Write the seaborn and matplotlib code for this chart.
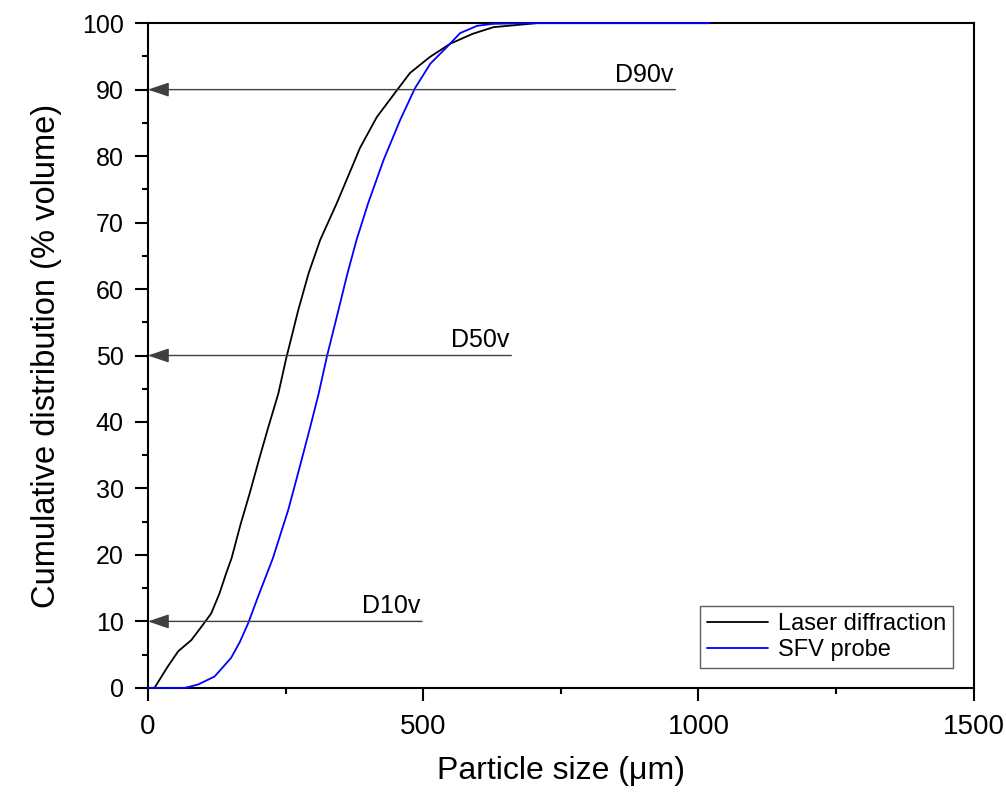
import matplotlib
matplotlib.use("Agg")
import matplotlib.pyplot as plt
import seaborn as sns
import pandas as pd
from matplotlib.ticker import MultipleLocator

# ---- data ----
laser_x = [0, 12, 24, 36, 55, 79, 100, 115, 130, 142, 152, 168, 185, 202, 219, 237, 251,
           273, 292, 313, 343, 376, 385, 416, 455, 476, 512, 549, 590, 628, 707, 1020]
laser_y = [0, 0, 1.6, 3.2, 5.5, 7.2, 9.5, 11.2, 14.2, 17.2, 19.5, 24.5, 29.3, 34.4, 39.3,
           44.3, 49.5, 56.8, 62.4, 67.4, 72.9, 79.4, 81.2, 85.9, 90.2, 92.5, 94.9, 96.9,
           98.4, 99.4, 100, 100]
sfv_x = [0, 67, 91, 121, 151, 167, 182, 200, 227, 255, 276, 295, 310, 325, 346, 362,
         379, 400, 428, 458, 485, 513, 543, 567, 598, 627, 700, 1020]
sfv_y = [0, 0, 0.5, 1.7, 4.5, 6.9, 9.7, 13.7, 19.5, 26.8, 33.3, 39.3, 44.2, 49.8, 56.8,
         62.2, 67.4, 72.9, 79.4, 85.4, 90.2, 93.9, 96.4, 98.5, 99.6, 99.9, 100, 100]
series_names = ["Laser diffraction", "SFV probe"]
series_colors = ["#000000", "#0000ff"]

d_labels = ["D10v", "D50v", "D90v"]
d_levels = [10, 50, 90]
d_line_end = [498, 660, 958]
d_text_y = [11.3, 51.3, 91.2]

x_label = "Particle size (\u03bcm)"
y_label = "Cumulative distribution (% volume)"

# ---- style ----
sns.set_style("ticks")
plt.rcParams["font.family"] = ["Liberation Sans", "DejaVu Sans"]
plt.rcParams["text.color"] = "black"
plt.rcParams["axes.labelcolor"] = "black"
plt.rcParams["xtick.color"] = "black"
plt.rcParams["ytick.color"] = "black"

df = pd.concat([
    pd.DataFrame({"size": laser_x, "cum": laser_y, "series": series_names[0]}),
    pd.DataFrame({"size": sfv_x, "cum": sfv_y, "series": series_names[1]}),
], ignore_index=True)

fig = plt.figure(figsize=(10.06, 7.98), dpi=100)
ax = fig.add_axes([0.147, 0.138, 0.821, 0.833])

sns.lineplot(data=df, x="size", y="cum", hue="series", palette=series_colors,
             sort=False, estimator=None, linewidth=1.3, ax=ax)
for ln in ax.get_lines():
    ln.set_clip_on(False)
    ln.set_zorder(3)

# arrows
for lab, lev, xe, ty in zip(d_labels, d_levels, d_line_end, d_text_y):
    ax.annotate("", xy=(0, lev), xytext=(xe, lev),
                arrowprops=dict(arrowstyle="-|>,head_length=0.65,head_width=0.22",
                                mutation_scale=20, color="#404040", lw=1.0,
                                shrinkA=0, shrinkB=0),
                annotation_clip=False)
    ax.text(xe - 3, ty, lab, ha="right", va="baseline", fontsize=18, color="black")

ax.set_xlim(0, 1500)
ax.set_ylim(0, 100)
ax.xaxis.set_major_locator(MultipleLocator(500))
ax.xaxis.set_minor_locator(MultipleLocator(250))
ax.yaxis.set_major_locator(MultipleLocator(10))
ax.yaxis.set_minor_locator(MultipleLocator(5))

ax.tick_params(axis="both", which="major", direction="out", length=9.5, width=1.5,
               pad=8, color="black", labelcolor="black")
ax.tick_params(axis="both", which="minor", direction="out", length=4.5, width=1.5,
               color="black")
ax.tick_params(axis="x", labelsize=20, pad=9)
ax.tick_params(axis="y", labelsize=18)
ax.tick_params(top=False, right=False, which="both")

for s in ax.spines.values():
    s.set_visible(True)
    s.set_linewidth(1.5)
    s.set_color("black")

ax.set_xlabel(x_label, fontsize=23, labelpad=12, color="black")
ax.set_ylabel(y_label, fontsize=23.5, labelpad=14, color="black")

leg = ax.legend(loc="lower right", bbox_to_anchor=(0.975, 0.03), borderaxespad=0,
                fontsize=17, frameon=True, fancybox=False, title=None,
                handlelength=2.6, handletextpad=0.4, borderpad=0.3, labelspacing=0.15)
leg.get_frame().set_edgecolor("#333333")
leg.get_frame().set_linewidth(1.0)
for line in leg.get_lines():
    line.set_linewidth(1.3)
for t in leg.get_texts():
    t.set_color("black")

fig.savefig("out.png", dpi=100, facecolor="white")
